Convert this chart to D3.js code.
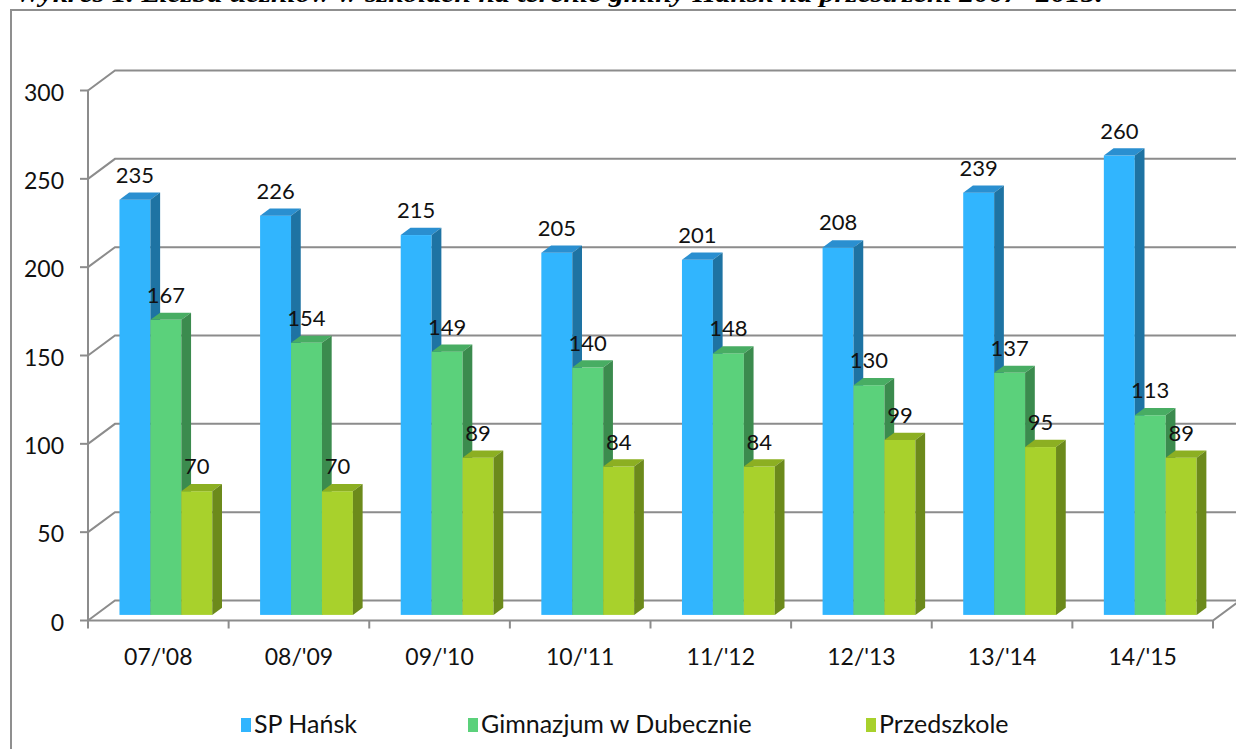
<!DOCTYPE html>
<html>
<head>
<meta charset="utf-8">
<script src="https://cdn.jsdelivr.net/npm/d3@7"></script>
<style>
  body { margin: 0; background: #fff; }
  svg { display: block; }
</style>
</head>
<body>
<script>
// data
var years = ["07/'08", "08/'09", "09/'10", "10/'11", "11/'12", "12/'13", "13/'14", "14/'15"];
var seriesNames = ["SP Hańsk", "Gimnazjum w Dubecznie", "Przedszkole"];
var spHansk = [235, 226, 215, 205, 201, 208, 239, 260];
var gimnazjum = [167, 154, 149, 140, 148, 130, 137, 113];
var przedszkole = [70, 70, 89, 84, 84, 99, 95, 89];
var yTicks = [0, 50, 100, 150, 200, 250, 300];

var values = [spHansk, gimnazjum, przedszkole];

// face colours: front, top, side
var colors = [
  { front: "#31b5fe", top: "#2a8fd0", side: "#1e73a3" },
  { front: "#5bd17b", top: "#48ad63", side: "#3b8b4e" },
  { front: "#a8d12c", top: "#8caf22", side: "#6c8a1b" }
];

var width = 1236,
    height = 749;

// depth of the 3d box (dx, dy) and where the bars sit inside it
var depth = [27, -20],
    f0 = 0.28,
    f1 = 0.64;

var svg = d3.select("body").append("svg")
    .attr("width", width)
    .attr("height", height);

// title, mostly cut off at the top
svg.append("text")
    .attr("x", 15)
    .attr("y", 2)
    .attr("textLength", 1088)
    .attr("lengthAdjust", "spacingAndGlyphs")
    .style("font-family", "'Liberation Serif', 'Times New Roman', serif")
    .style("font-style", "italic")
    .style("font-weight", "bold")
    .style("font-size", "25px")
    .text("Wykres 1. Liczba uczniów w szkołach na terenie gminy Hańsk na przestrzeni 2007- 2015.");

// frame
svg.append("path")
    .attr("d", "M11,760V10H1250")
    .attr("fill", "none")
    .attr("stroke", "#8f8f8f")
    .attr("stroke-width", 2);

var x = d3.scaleBand()
    .domain(years)
    .range([88, 1213]);

var y = d3.scaleLinear()
    .domain([0, 300])
    .range([620.5, 90.5]);

var xs = d3.scaleBand()
    .domain(d3.range(seriesNames.length))
    .range([0, x.bandwidth() * 0.66]);

var grid = svg.append("g")
    .attr("fill", "none")
    .attr("stroke", "#8c8c8c")
    .attr("stroke-width", 2);

// back wall gridlines with the diagonal on the left wall
yTicks.forEach(function(t) {
  var yy = y(t);
  grid.append("path")
      .attr("d", "M88," + yy + "L" + (88 + depth[0]) + "," + (yy + depth[1]) + "H1250");
  grid.append("line")
      .attr("x1", 80).attr("x2", 88)
      .attr("y1", yy).attr("y2", yy);
});

// front axis and floor front edge
grid.append("line")
    .attr("x1", 88).attr("x2", 88)
    .attr("y1", y(300)).attr("y2", y(0));
grid.append("path")
    .attr("d", "M88," + y(0) + "H1213L" + (1213 + depth[0]) + "," + (y(0) + depth[1]));

// category ticks
years.concat([null]).forEach(function(c, i) {
  var xx = i < years.length ? x(c) : x.range()[1];
  grid.append("line")
      .attr("x1", xx).attr("x2", xx)
      .attr("y1", y(0)).attr("y2", y(0) + 8);
});

// y labels
svg.append("g")
    .selectAll("text")
    .data(yTicks)
  .enter().append("text")
    .attr("x", 64)
    .attr("y", function(d) { return y(d) + 10; })
    .attr("text-anchor", "end")
    .style("font-family", "Lato, sans-serif")
    .style("font-size", "23px")
    .style("fill", "#111")
    .text(function(d) { return d; });

// x labels
svg.append("g")
    .selectAll("text")
    .data(years)
  .enter().append("text")
    .attr("x", function(d) { return x(d) + x.bandwidth() / 2; })
    .attr("y", 665)
    .attr("text-anchor", "middle")
    .style("font-family", "Lato, sans-serif")
    .style("font-size", "23px")
    .style("fill", "#111")
    .text(function(d) { return d; });

// bars
var bars = svg.append("g");
var labels = [];
var off = x.bandwidth() * 0.17;

years.forEach(function(c, i) {
  values.forEach(function(arr, s) {
    var v = arr[i];
    var xl = x(c) + off + xs(s) + depth[0] * f0,
        xr = xl + xs.bandwidth(),
        yb = y(0) + depth[1] * f0,
        yt = y(v) + depth[1] * f0,
        ddx = depth[0] * (f1 - f0),
        ddy = depth[1] * (f1 - f0);

    bars.append("rect")
        .attr("x", xl).attr("y", yt)
        .attr("width", xr - xl).attr("height", yb - yt)
        .attr("fill", colors[s].front);
    bars.append("path")
        .attr("d", "M" + xl + "," + yt + "L" + (xl + ddx) + "," + (yt + ddy) +
                   "H" + (xr + ddx) + "L" + xr + "," + yt + "Z")
        .attr("fill", colors[s].top);
    bars.append("path")
        .attr("d", "M" + xr + "," + yt + "L" + (xr + ddx) + "," + (yt + ddy) +
                   "V" + (yb + ddy) + "L" + xr + "," + yb + "Z")
        .attr("fill", colors[s].side);

    labels.push({ x: (xl + xr) / 2, y: yt - 17, v: v });
  });
});

svg.append("g")
    .selectAll("text")
    .data(labels)
  .enter().append("text")
    .attr("x", function(d) { return d.x; })
    .attr("y", function(d) { return d.y; })
    .attr("text-anchor", "middle")
    .style("font-family", "Lato, sans-serif")
    .style("font-size", "22px")
    .style("fill", "#111")
    .text(function(d) { return d.v; });

// legend
var legendX = [241, 468, 866];
var legend = svg.append("g")
    .selectAll("g")
    .data(seriesNames)
  .enter().append("g")
    .attr("transform", function(d, i) { return "translate(" + legendX[i] + ",0)"; });

legend.append("rect")
    .attr("x", 0).attr("y", 718)
    .attr("width", 10).attr("height", 14)
    .attr("fill", function(d, i) { return colors[i].front; });

legend.append("text")
    .attr("x", 13)
    .attr("y", 733)
    .style("font-family", "Lato, sans-serif")
    .style("font-size", "25px")
    .style("fill", "#111")
    .text(function(d) { return d; });
</script>
</body>
</html>
